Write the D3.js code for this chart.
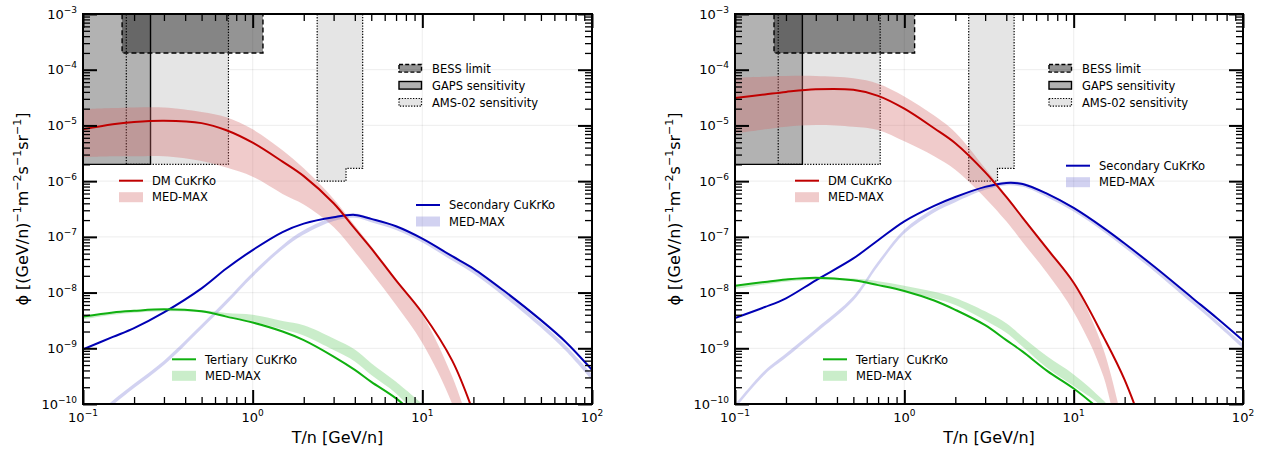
<!DOCTYPE html>
<html>
<head>
<meta charset="utf-8">
<script src="https://cdn.jsdelivr.net/npm/d3@7/dist/d3.min.js"></script>
<style>
  body { margin: 0; background: #fff; }
  svg text { font-family: 'DejaVu Sans', sans-serif; fill: #000; }
</style>
</head>
<body>
<div id="chart"></div>
<script>
// ---- data ----
const energyT = [0.1, 0.15, 0.2, 0.3, 0.5, 0.7, 1, 1.5, 2, 3, 4, 5, 7, 10, 15, 20, 30, 50, 70, 100];

// left panel
const leftDmLine  = [8.5e-6, 1.05e-5, 1.15e-5, 1.21e-5, 1.1e-5, 8.2e-6, 4.9e-6, 2.24e-6, 1.23e-6, 4.0e-7, 1.4e-7, 6.2e-8, 1.65e-8, 4.3e-9, 6.0e-10, 7.0e-11, null, null, null, null];
const leftDmLow   = [2.7e-6, 2.8e-6, 2.8e-6, 2.8e-6, 2.3e-6, 1.75e-6, 1.2e-6, 5.9e-7, 3.8e-7, 1.5e-7, 5.4e-8, 2.3e-8, 6.0e-9, 1.25e-9, 1.0e-10, 5e-12, null, null, null, null];
const leftDmHigh  = [1.95e-5, 2.05e-5, 2.1e-5, 2.1e-5, 1.75e-5, 1.4e-5, 8.5e-6, 3.6e-6, 1.7e-6, 4.8e-7, 1.6e-7, 6.8e-8, 1.75e-8, 4.0e-9, 3.1e-10, 2.5e-11, null, null, null, null];
const leftSecLine = [9.6e-10, 1.6e-9, 2.3e-9, 4.4e-9, 1.19e-8, 2.7e-8, 5.8e-8, 1.22e-7, 1.73e-7, 2.25e-7, 2.48e-7, 2.1e-7, 1.55e-7, 9.3e-8, 4.5e-8, 2.7e-8, 1.1e-8, 3.2e-9, 1.3e-9, 4.1e-10];
const leftSecLow  = [3.2e-11, 9.6e-11, 1.93e-10, 5.0e-10, 2.25e-9, 6.2e-9, 1.93e-8, 6.0e-8, 1.1e-7, 1.93e-7, 2.2e-7, 1.83e-7, 1.33e-7, 7.9e-8, 3.75e-8, 2.2e-8, 8.7e-9, 2.35e-9, 9.0e-10, 2.65e-10];
const leftSecHigh = [3.8e-11, 1.15e-10, 2.3e-10, 6.0e-10, 2.67e-9, 7.4e-9, 2.3e-8, 7.1e-8, 1.31e-7, 2.29e-7, 2.62e-7, 2.18e-7, 1.58e-7, 9.4e-8, 4.5e-8, 2.65e-8, 1.05e-8, 2.9e-9, 1.12e-9, 3.4e-10];
const leftTerLine = [3.7e-9, 4.4e-9, 4.7e-9, 5.0e-9, 4.6e-9, 3.7e-9, 2.9e-9, 2.0e-9, 1.4e-9, 7.1e-10, 4.1e-10, 2.5e-10, 1.26e-10, 5e-11, null, null, null, null, null, null];
const leftTerLow  = [3.3e-9, 4.0e-9, 4.35e-9, 4.6e-9, 4.4e-9, 3.8e-9, 3.0e-9, 2.2e-9, 1.7e-9, 9.3e-10, 5.8e-10, 3.3e-10, 1.55e-10, 5e-11, null, null, null, null, null, null];
const leftTerHigh = [3.7e-9, 4.4e-9, 4.75e-9, 5.0e-9, 4.8e-9, 4.3e-9, 4.0e-9, 3.1e-9, 2.6e-9, 1.5e-9, 9.5e-10, 5.4e-10, 2.5e-10, 1.0e-10, null, null, null, null, null, null];

// right panel
const rightDmLine  = [3.1e-5, 3.6e-5, 4.0e-5, 4.45e-5, 4.35e-5, 3.4e-5, 2.0e-5, 8.9e-6, 4.8e-6, 1.45e-6, 5.2e-7, 2.2e-7, 6.0e-8, 1.5e-8, 1.6e-9, 2.7e-10, 1e-11, null, null, null];
const rightDmLow   = [7.2e-6, 8.5e-6, 9.5e-6, 1.02e-5, 9.5e-6, 8.3e-6, 5.2e-6, 2.8e-6, 1.6e-6, 5.0e-7, 1.9e-7, 8.0e-8, 2.2e-8, 4.5e-9, 3.1e-10, 5e-12, null, null, null, null];
const rightDmHigh  = [7.2e-5, 7.5e-5, 7.7e-5, 7.7e-5, 7.0e-5, 5.6e-5, 3.3e-5, 1.5e-5, 7.5e-6, 1.7e-6, 5.6e-7, 2.3e-7, 6.5e-8, 1.5e-8, 9.5e-10, 3e-11, null, null, null, null];
const rightSecLine = [3.5e-9, 5.5e-9, 7.9e-9, 1.66e-8, 4.1e-8, 8.7e-8, 1.9e-7, 3.6e-7, 5.2e-7, 7.9e-7, 9.3e-7, 8.9e-7, 5.9e-7, 3.3e-7, 1.45e-7, 7.6e-8, 2.9e-8, 8.1e-9, 3.5e-9, 1.38e-9];
const rightSecLow  = [8.3e-11, 3.4e-10, 6.8e-10, 1.88e-9, 7.2e-9, 3.0e-8, 1.15e-7, 2.75e-7, 4.2e-7, 7.0e-7, 8.35e-7, 7.9e-7, 5.1e-7, 2.85e-7, 1.24e-7, 6.4e-8, 2.4e-8, 6.4e-9, 2.65e-9, 1.0e-9];
const rightSecHigh = [9.8e-11, 4.0e-10, 8.1e-10, 2.23e-9, 8.6e-9, 3.6e-8, 1.36e-7, 3.27e-7, 5.0e-7, 8.3e-7, 9.9e-7, 9.4e-7, 6.1e-7, 3.4e-7, 1.47e-7, 7.6e-8, 2.85e-8, 7.6e-9, 3.15e-9, 1.2e-9];
const rightTerLine = [1.32e-8, 1.55e-8, 1.72e-8, 1.85e-8, 1.66e-8, 1.36e-8, 1.07e-8, 7.2e-9, 4.9e-9, 2.6e-9, 1.4e-9, 8.7e-10, 3.9e-10, 1.9e-10, 7e-11, null, null, null, null, null];
const rightTerLow  = [1.15e-8, 1.4e-8, 1.57e-8, 1.7e-8, 1.6e-8, 1.38e-8, 1.07e-8, 7.8e-9, 6.0e-9, 3.2e-9, 1.9e-9, 1.07e-9, 4.4e-10, 2.1e-10, 8e-11, 1e-11, null, null, null, null];
const rightTerHigh = [1.3e-8, 1.55e-8, 1.72e-8, 1.85e-8, 1.78e-8, 1.6e-8, 1.33e-8, 1.03e-8, 8.0e-9, 4.6e-9, 2.8e-9, 1.6e-9, 7.1e-10, 3.4e-10, 1.15e-10, 4e-11, null, null, null, null];

// experimental regions (T/n, flux) - same in both panels
const amsLowT    = [0.18, 0.18, 0.72, 0.72];
const amsLowPhi  = [1e-2, 2e-6, 2e-6, 1e-2];
const amsHighT   = [2.4, 2.4, 3.55, 3.55, 4.45, 4.45];
const amsHighPhi = [1e-2, 1e-6, 1e-6, 1.7e-6, 1.7e-6, 1e-2];
const gapsT      = [0.08, 0.08, 0.25, 0.25];
const gapsPhi    = [1e-2, 2e-6, 2e-6, 1e-2];
const bessT      = [0.17, 0.17, 1.15, 1.15];
const bessPhi    = [1e-2, 2e-4, 2e-4, 1e-2];

// axes
const xMajorTicks = [0.1, 1, 10, 100];
const xTickExp = ['−1', '0', '1', '2'];
const yMajorTicks = [1e-10, 1e-9, 1e-8, 1e-7, 1e-6, 1e-5, 1e-4, 1e-3];
const yTickExp = ['−10', '−9', '−8', '−7', '−6', '−5', '−4', '−3'];

const boxLabels = ['BESS limit', 'GAPS sensitivity', 'AMS-02 sensitivity'];

const colors = {
    dm: '#c00000', dmBand: '#d46a6a',
    sec: '#0000b4', secBand: '#6a6ad2',
    ter: '#10b010', terBand: '#66cc66',
    ams: '#e5e5e5', gaps: '#b2b2b2'
};

function toSeries(line, low, high) {
    return energyT.map((t, i) => ({ t: t, v: line[i], lo: low[i], hi: high[i] }));
}

const panels = [
    {
        id: 'left', x0: 83, x1: 592,
        dm: toSeries(leftDmLine, leftDmLow, leftDmHigh),
        sec: toSeries(leftSecLine, leftSecLow, leftSecHigh),
        ter: toSeries(leftTerLine, leftTerLow, leftTerHigh),
        boxLegend: { x: 399, y: 68.3 },
        dmLegend: { x: 119, y: 180.7 },
        secLegend: { x: 416, y: 205 },
        terLegend: { x: 172, y: 359.3 }
    },
    {
        id: 'right', x0: 735, x1: 1243,
        dm: toSeries(rightDmLine, rightDmLow, rightDmHigh),
        sec: toSeries(rightSecLine, rightSecLow, rightSecHigh),
        ter: toSeries(rightTerLine, rightTerLow, rightTerHigh),
        boxLegend: { x: 1049, y: 68.3 },
        dmLegend: { x: 795, y: 180.7 },
        secLegend: { x: 1066, y: 165.7 },
        terLegend: { x: 823, y: 359.3 }
    }
];

const W = 1271, H = 451;
const yTop = 14, yBottom = 404;

const svg = d3.select('#chart').append('svg')
    .attr('width', W)
    .attr('height', H);

svg.append('rect').attr('width', W).attr('height', H).attr('fill', '#fff');

function minorTicks(lo, hi) {
    const out = [];
    for (let e = Math.log10(lo); e < Math.log10(hi); e++) {
        for (let k = 2; k <= 9; k++) out.push(k * Math.pow(10, e));
    }
    return out;
}

function drawPanel(p) {
    const x = d3.scaleLog().domain([0.1, 100]).range([p.x0, p.x1]);
    const y = d3.scaleLog().domain([1e-10, 1e-3]).range([yBottom, yTop]);
    const g = svg.append('g');

    const clipId = 'clip-' + p.id;
    svg.append('clipPath').attr('id', clipId)
        .append('rect')
        .attr('x', p.x0).attr('y', yTop)
        .attr('width', p.x1 - p.x0).attr('height', yBottom - yTop);

    const plot = g.append('g').attr('clip-path', `url(#${clipId})`);

    // grid at decades
    plot.selectAll('.gx').data(xMajorTicks).enter().append('line')
        .attr('x1', d => x(d)).attr('x2', d => x(d))
        .attr('y1', yTop).attr('y2', yBottom)
        .attr('stroke', '#000').attr('stroke-opacity', 0.06).attr('stroke-width', 1.2);
    plot.selectAll('.gy').data(yMajorTicks).enter().append('line')
        .attr('y1', d => y(d)).attr('y2', d => y(d))
        .attr('x1', p.x0).attr('x2', p.x1)
        .attr('stroke', '#000').attr('stroke-opacity', 0.06).attr('stroke-width', 1.2);

    // experiment regions
    const poly = (ts, ps) => d3.line()(ts.map((t, i) => [x(t), y(ps[i])])) + 'Z';
    plot.append('path').attr('d', poly(amsLowT, amsLowPhi)).attr('fill', colors.ams);
    plot.append('path').attr('d', poly(amsHighT, amsHighPhi)).attr('fill', colors.ams);
    plot.append('path').attr('d', poly(gapsT, gapsPhi)).attr('fill', colors.gaps);
    plot.append('path').attr('d', poly(bessT, bessPhi)).attr('fill', '#000').attr('fill-opacity', 0.42);

    plot.append('path').attr('d', poly(amsLowT, amsLowPhi))
        .attr('fill', 'none').attr('stroke', '#000').attr('stroke-width', 1.2).attr('stroke-dasharray', '1.3,1.5');
    plot.append('path').attr('d', poly(amsHighT, amsHighPhi))
        .attr('fill', 'none').attr('stroke', '#000').attr('stroke-width', 1.2).attr('stroke-dasharray', '1.3,1.5');
    plot.append('path').attr('d', poly(gapsT, gapsPhi))
        .attr('fill', 'none').attr('stroke', '#000').attr('stroke-width', 1.4);
    plot.append('path').attr('d', poly(bessT, bessPhi))
        .attr('fill', 'none').attr('stroke', '#000').attr('stroke-width', 1.4).attr('stroke-dasharray', '5,3');

    // bands and lines
    const smooth = d3.curveCatmullRom.alpha(0.5);
    const band = d3.area()
        .defined(d => d.lo != null)
        .x(d => x(d.t))
        .y0(d => y(d.lo))
        .y1(d => y(d.hi))
        .curve(smooth);
    const line = d3.line()
        .defined(d => d.v != null)
        .x(d => x(d.t))
        .y(d => y(d.v))
        .curve(smooth);

    plot.append('path').attr('d', band(p.dm)).attr('fill', colors.dmBand).attr('fill-opacity', 0.35);
    plot.append('path').attr('d', band(p.sec)).attr('fill', colors.secBand).attr('fill-opacity', 0.3);
    plot.append('path').attr('d', band(p.ter)).attr('fill', colors.terBand).attr('fill-opacity', 0.35);

    plot.append('path').attr('d', line(p.sec)).attr('fill', 'none').attr('stroke', colors.sec).attr('stroke-width', 2);
    plot.append('path').attr('d', line(p.ter)).attr('fill', 'none').attr('stroke', colors.ter).attr('stroke-width', 2);
    plot.append('path').attr('d', line(p.dm)).attr('fill', 'none').attr('stroke', colors.dm).attr('stroke-width', 2);

    // ticks on all four sides, pointing inward
    const xMinor = minorTicks(0.1, 100);
    const yMinor = minorTicks(1e-10, 1e-3);
    const tickAxes = [
        [d3.axisBottom(x), `translate(0,${yBottom})`, xMajorTicks, xMinor],
        [d3.axisTop(x), `translate(0,${yTop})`, xMajorTicks, xMinor],
        [d3.axisLeft(y), `translate(${p.x0},0)`, yMajorTicks, yMinor],
        [d3.axisRight(y), `translate(${p.x1},0)`, yMajorTicks, yMinor]
    ];
    tickAxes.forEach(([axis, tr, major, minor]) => {
        const gm = g.append('g').attr('transform', tr)
            .call(axis.tickValues(minor).tickSize(-7).tickFormat(''));
        gm.select('.domain').remove();
        gm.selectAll('line').attr('stroke-width', 1.3);
        const gM = g.append('g').attr('transform', tr)
            .call(axis.tickValues(major).tickSize(-14).tickFormat(''));
        gM.select('.domain').remove();
        gM.selectAll('line').attr('stroke-width', 2);
    });

    // frame
    g.append('rect')
        .attr('x', p.x0).attr('y', yTop)
        .attr('width', p.x1 - p.x0).attr('height', yBottom - yTop)
        .attr('fill', 'none').attr('stroke', '#000').attr('stroke-width', 2);

    // tick labels
    xMajorTicks.forEach((v, i) => {
        const t = g.append('text')
            .attr('x', x(v)).attr('y', 422)
            .attr('text-anchor', 'middle')
            .style('font-size', '13px');
        t.append('tspan').text('10');
        t.append('tspan').attr('dy', -6).style('font-size', '9px').text(xTickExp[i]);
    });
    yMajorTicks.forEach((v, i) => {
        const t = g.append('text')
            .attr('x', p.x0 - 6).attr('y', y(v) + 4.6)
            .attr('text-anchor', 'end')
            .style('font-size', '13px');
        t.append('tspan').text('10');
        t.append('tspan').attr('dy', -6).style('font-size', '9px').text(yTickExp[i]);
    });

    // axis titles
    g.append('text')
        .attr('x', (p.x0 + p.x1) / 2).attr('y', 443)
        .attr('text-anchor', 'middle')
        .style('font-size', '16px')
        .text('T/n [GeV/n]');

    const yl = g.append('text')
        .attr('transform', `translate(${p.x0 - 55},${(yTop + yBottom) / 2}) rotate(-90)`)
        .attr('text-anchor', 'middle')
        .style('font-size', '16px');
    const ylParts = [['ϕ [(GeV/n)', 0], ['−1', 1], ['m', 0], ['−2', 1], ['s', 0], ['−1', 1], ['sr', 0], ['−1', 1], [']', 0]];
    let up = false;
    ylParts.forEach(([s, sup]) => {
        const ts = yl.append('tspan').text(s);
        if (sup && !up) { ts.attr('dy', -7).style('font-size', '11px'); up = true; }
        else if (sup) { ts.style('font-size', '11px'); }
        else if (up) { ts.attr('dy', 7); up = false; }
    });

    // legend: experiments
    const bl = p.boxLegend;
    const boxStyles = [
        { fill: '#000', op: 0.42, dash: '4,2.2', sw: 1.4 },
        { fill: colors.gaps, op: 1, dash: null, sw: 1.4 },
        { fill: colors.ams, op: 1, dash: '1.3,1.5', sw: 1.2 }
    ];
    boxLabels.forEach((lab, i) => {
        const cy = bl.y + i * 17;
        const s = boxStyles[i];
        g.append('rect').attr('x', bl.x).attr('y', cy - 3.8).attr('width', 22.5).attr('height', 7.6)
            .attr('fill', s.fill).attr('fill-opacity', s.op);
        g.append('rect').attr('x', bl.x).attr('y', cy - 3.8).attr('width', 22.5).attr('height', 7.6)
            .attr('fill', 'none').attr('stroke', '#000').attr('stroke-width', s.sw)
            .attr('stroke-dasharray', s.dash);
        g.append('text').attr('x', bl.x + 33).attr('y', cy + 4.2)
            .style('font-size', '11.5px').text(lab);
    });

    // legend: curves
    const curveLegend = (pos, col, bandCol, bandOp, label) => {
        g.append('line').attr('x1', pos.x).attr('x2', pos.x + 24)
            .attr('y1', pos.y).attr('y2', pos.y)
            .attr('stroke', col).attr('stroke-width', 2);
        g.append('text').attr('x', pos.x + 33).attr('y', pos.y + 4.2)
            .style('font-size', '11.5px').style('white-space', 'pre').text(label);
        const by = pos.y + 16.5;
        g.append('rect').attr('x', pos.x).attr('y', by - 5).attr('width', 24).attr('height', 10)
            .attr('fill', bandCol).attr('fill-opacity', bandOp);
        g.append('text').attr('x', pos.x + 33).attr('y', by + 4.2)
            .style('font-size', '11.5px').text('MED-MAX');
    };
    curveLegend(p.dmLegend, colors.dm, colors.dmBand, 0.35, 'DM CuKrKo');
    curveLegend(p.secLegend, colors.sec, colors.secBand, 0.3, 'Secondary CuKrKo');
    curveLegend(p.terLegend, colors.ter, colors.terBand, 0.35, 'Tertiary  CuKrKo');
}

panels.forEach(drawPanel);
</script>
</body>
</html>
